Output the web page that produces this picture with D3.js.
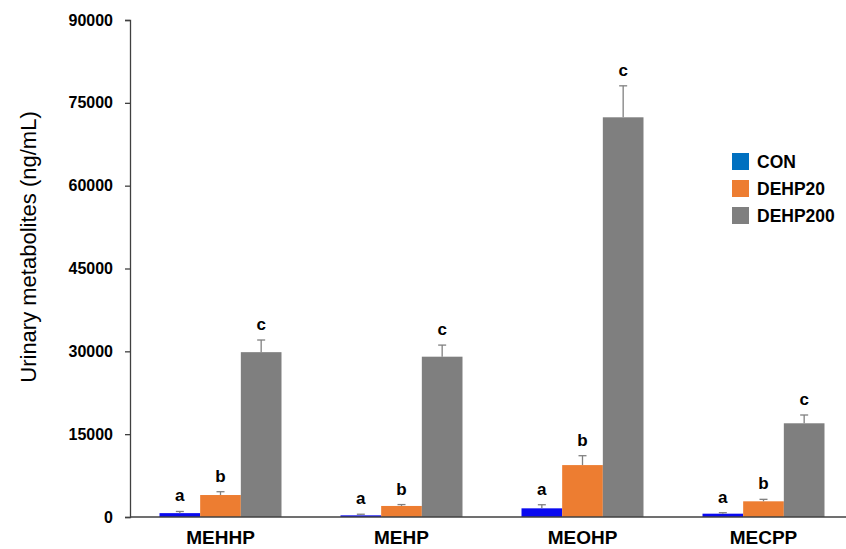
<!DOCTYPE html>
<html><head><meta charset="utf-8">
<script src="https://cdn.jsdelivr.net/npm/d3@7"></script>
<style>body{margin:0;background:#fff}svg{display:block;font-family:Arial,"Liberation Sans",sans-serif}</style>
</head><body><svg id="c" width="846" height="549"></svg>
<script>
const categories = ["MEHHP","MEHP","MEOHP","MECPP"];
const seriesNames = ["CON","DEHP20","DEHP200"];
const conValues = [700, 300, 1570, 600];
const conErrors = [300, 200, 650, 180];
const dehp20Values = [3980, 2000, 9400, 2840];
const dehp20Errors = [600, 250, 1700, 360];
const dehp200Values = [29850, 29030, 72380, 16970];
const dehp200Errors = [2200, 2100, 5700, 1500];
const letters = ["a","b","c"];
const yTicks = [0,15000,30000,45000,60000,75000,90000];

const barColors = ["#0a0af0","#ed7d31","#7f7f7f"];
const legendColors = ["#0070c0","#ed7d31","#7f7f7f"];

const svg = d3.select("#c");
const x = d3.scaleBand().domain(categories).range([130,854]).paddingInner(0.326).paddingOuter(0.163);
const xs = d3.scaleBand().domain(seriesNames).range([0,x.bandwidth()]);
const y = d3.scaleLinear().domain([0,90000]).range([517,20]);

const vals = [conValues, dehp20Values, dehp200Values];
const errs = [conErrors, dehp20Errors, dehp200Errors];
const data = [];
categories.forEach((c,i)=>seriesNames.forEach((s,j)=>data.push({c,s,j,v:vals[j][i],e:errs[j][i]})));

// y axis
const yAxis = svg.append("g").attr("transform","translate(130,0)")
  .call(d3.axisLeft(y).tickValues(yTicks).tickSize(5).tickPadding(12).tickFormat(d3.format("d")));
yAxis.select(".domain").attr("stroke","#404040").attr("stroke-width",1.3);
yAxis.selectAll(".tick line").attr("stroke","#404040").attr("stroke-width",1.3);
yAxis.selectAll(".tick text").attr("font-size",16).attr("font-weight","bold").attr("fill","#000").attr("font-family","Arial, Liberation Sans, sans-serif");

// bars
const g = svg.append("g");
g.selectAll("rect.bar").data(data).join("rect").attr("class","bar")
  .attr("x",d=>x(d.c)+xs(d.s)).attr("width",xs.bandwidth())
  .attr("y",d=>y(d.v)).attr("height",d=>y(0)-y(d.v)).attr("fill",d=>barColors[d.j]);

// error bars
const eb = g.selectAll("g.err").data(data).join("g").attr("class","err")
  .attr("stroke","#808080").attr("stroke-width",1.3);
eb.append("line").attr("x1",d=>x(d.c)+xs(d.s)+xs.bandwidth()/2).attr("x2",d=>x(d.c)+xs(d.s)+xs.bandwidth()/2)
  .attr("y1",d=>y(d.v)).attr("y2",d=>y(d.v+d.e));
eb.append("line").attr("x1",d=>x(d.c)+xs(d.s)+xs.bandwidth()/2-4).attr("x2",d=>x(d.c)+xs(d.s)+xs.bandwidth()/2+4)
  .attr("y1",d=>y(d.v+d.e)).attr("y2",d=>y(d.v+d.e));

// letters
g.selectAll("text.lt").data(data).join("text").attr("class","lt")
  .attr("x",d=>x(d.c)+xs(d.s)+xs.bandwidth()/2).attr("y",d=>y(d.v+d.e)-10)
  .attr("text-anchor","middle").attr("font-size",17).attr("font-weight","bold").text(d=>letters[d.j]);

// x axis
const xAxis = svg.append("g").attr("transform","translate(0,517)")
  .call(d3.axisBottom(x).tickSize(0).tickPadding(0));
xAxis.select(".domain").attr("d","M130,0H846").attr("stroke","#404040").attr("stroke-width",1.3);
xAxis.selectAll(".tick text").attr("dy",null).attr("y",27).attr("font-size",19).attr("font-weight","bold").attr("fill","#000").attr("font-family","Arial, Liberation Sans, sans-serif");

// y title
svg.append("text").attr("transform","translate(36,247) rotate(-90)").attr("text-anchor","middle")
  .attr("font-size",22).attr("fill","#000").text("Urinary metabolites (ng/mL)");

// legend
const lg = svg.append("g").attr("transform","translate(732,153)");
seriesNames.forEach((s,i)=>{
  lg.append("rect").attr("x",0).attr("y",i*27).attr("width",17).attr("height",17).attr("fill",legendColors[i]);
  lg.append("text").attr("x",25).attr("y",i*27+15).attr("font-size",17.5).attr("font-weight","bold").text(s);
});
</script></body></html>
